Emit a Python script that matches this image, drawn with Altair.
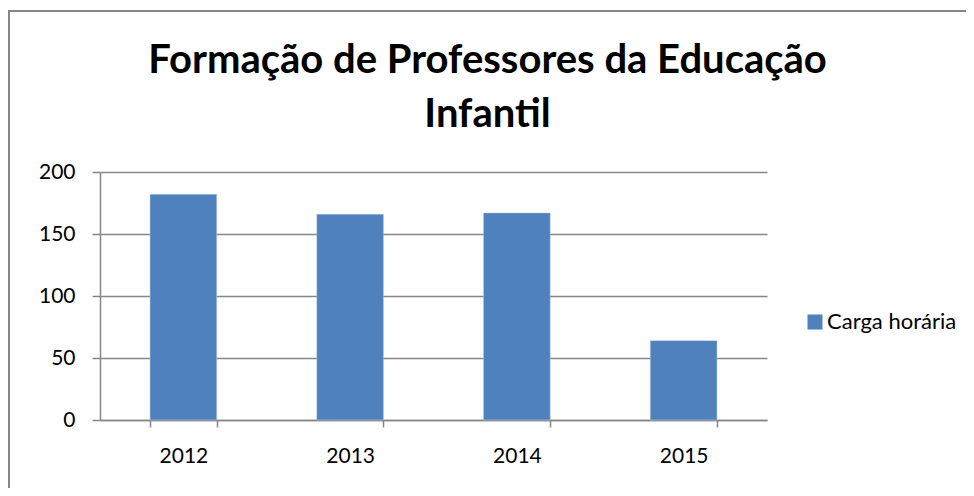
import altair as alt
import pandas as pd

years = ["2012", "2013", "2014", "2015"]
hours = [182, 166, 167, 64]
series = ["Carga horária"] * 4

df = pd.DataFrame({"ano": years, "valor": hours, "serie": series})

GRAY = "#868686"
BLUE = "#4F81BD"
FONT = "Lato"

bars = alt.Chart(df).mark_bar(color=BLUE, stroke="#B9CDE5", strokeWidth=0.5).encode(
    x=alt.X("ano:N", title=None, sort=years,
            scale=alt.Scale(paddingInner=0.6, paddingOuter=0.3),
            axis=alt.Axis(labelAngle=0, tickBand="extent", tickSize=7, tickColor=GRAY,
                          tickWidth=1.5, domainColor=GRAY, domainWidth=1.5,
                          labelFontSize=21, labelFont=FONT, labelColor="#000000",
                          labelPadding=18, grid=False)),
    y=alt.Y("valor:Q", title=None,
            scale=alt.Scale(domain=[0, 200]),
            axis=alt.Axis(values=[0, 50, 100, 150, 200], tickSize=8, tickColor=GRAY,
                          tickWidth=1.5, domainColor=GRAY, domainWidth=1.5,
                          gridColor=GRAY, gridWidth=1.5, labelFontSize=21,
                          labelFont=FONT, labelColor="#000000", labelPadding=17)),
    color=alt.Color("serie:N", scale=alt.Scale(range=[BLUE]),
                    legend=alt.Legend(title=None, orient="none", legendX=704, legendY=139,
                                      symbolType="square", symbolSize=225,
                                      symbolStrokeWidth=0, labelFontSize=22,
                                      labelFont=FONT, labelColor="#000000",
                                      labelOffset=1, labelLimit=300)),
)

frame = alt.Chart(df).mark_rect(fill=None, stroke=GRAY, strokeWidth=2).encode(
    x=alt.value(-91), x2=alt.value(960), y=alt.value(-161), y2=alt.value(400))

chart = alt.layer(frame, bars).properties(
    width=667, height=248,
    autosize=alt.AutoSizeParams(type="none"),
    padding={"left": 92, "top": 164, "right": 199, "bottom": 68},
    title=alt.TitleParams(
        text=["Formação de Professores da Educação", "Infantil"],
        font=FONT, fontSize=40, fontWeight="bold", color="#000000",
        anchor="middle", dx=54, lineHeight=54, offset=0, dy=125),
).configure_view(stroke=None)

chart.save("out.html", embed_options={"renderer": "svg", "actions": False})
